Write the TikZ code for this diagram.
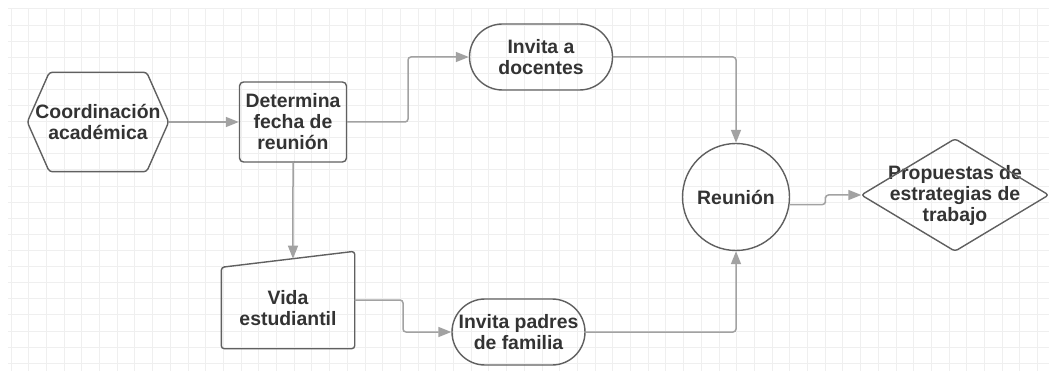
\documentclass[tikz,border=0pt]{standalone}
\usepackage{fontspec}
\setmainfont{Liberation Sans}
\usetikzlibrary{arrows.meta,calc}
\definecolor{txtgray}{HTML}{333333}
\definecolor{edgegray}{HTML}{606060}
\definecolor{flowgray}{HTML}{A2A2A2}
\definecolor{gridgray}{HTML}{EFEFEF}
\tikzset{blk/.style={draw=edgegray, line width=1.4pt, text=txtgray, font=\bfseries\fontsize{19.4}{21}\selectfont, align=center, inner sep=0pt}}
\tikzstyle{box}=[blk, rectangle, rounded corners=4pt, minimum width=107pt, minimum height=80pt]
\tikzstyle{pill}=[blk, rectangle, rounded corners=33pt, minimum height=66pt]
\tikzstyle{circ}=[blk, circle, minimum size=107pt]
\tikzstyle{bare}=[blk, draw=none]
\tikzstyle{outline}=[draw=edgegray, line width=1.4pt, line join=round, rounded corners=3pt]
\tikzstyle{flow}=[draw=flowgray, line width=1.5pt, rounded corners=3pt, ->]
\begin{document}
\begin{tikzpicture}[x=1pt, y=-1pt, >={Triangle[length=13pt,width=10pt]}]
\fill[white] (0,0) rectangle (1049,371);
\useasboundingbox (0,0) rectangle (1049,371);
\foreach \gx in {0,...,58} \draw[gridgray, line width=1pt] ({11+17.7*\gx},9) -- ({11+17.7*\gx},371);
\foreach \gy in {0,...,22} \draw[gridgray, line width=1pt] (8,{9+16.1*\gy}) -- (1049,{9+16.1*\gy});

\node[bare, minimum width=140pt, minimum height=98pt] (coord) at (98,122) {Coordinación\\académica};
\node[box, right of=coord, node distance=195pt] (det) {Determina\\fecha de\\reunión};
\node[pill, minimum width=143pt, right of=det, node distance=248pt, yshift=65pt] (doc) {Invita a\\docentes};
\node[bare, minimum width=132pt, minimum height=80pt, below of=det, node distance=186pt, xshift=-5pt] (vida) {Vida\\estudiantil};
\node[pill, minimum width=133pt, right of=vida, node distance=230.5pt, yshift=-24pt] (padres) {Invita padres\\de familia};
\node[circ, right of=det, node distance=443pt, yshift=-75pt] (reu) {Reunión};
\node[bare, minimum width=186pt, minimum height=111pt, right of=reu, node distance=219pt, yshift=2pt] (prop) {Propuestas de\\estrategias de\\trabajo};

\draw[outline] (coord.west) -- ([xshift=22pt]coord.north west) -- ([xshift=-22pt]coord.north east) -- (coord.east) -- ([xshift=-22pt]coord.south east) -- ([xshift=22pt]coord.south west) -- cycle;
\coordinate (vtr) at ([yshift=16pt]vida.north east);
\draw[outline] (vida.south west) -- (vida.north west) -- (vtr) -- (vida.south east) -- cycle;
\draw[outline] (prop.west) -- (prop.north) -- (prop.east) -- (prop.south) -- cycle;
\coordinate (vin) at (intersection of det.north--det.south and vida.north west--vtr);
\coordinate (vout) at ([yshift=8pt]vida.east);

\draw[flow] (coord.east) -- (det.west);
\draw[flow] (det.east) -| ($(det.east)!0.5!(doc.west)$) |- (doc.west);
\draw[flow] (doc.east) -| (reu.north);
\draw[flow] (det.south) -- (vin);
\draw[flow] (vout) -| ($(vout)!0.5!(padres.west)$) |- (padres.west);
\draw[flow] (padres.east) -| (reu.south);
\draw[flow] (reu.-8) -| ($(reu.-8)!0.5!(prop.west)$) |- (prop.west);
\end{tikzpicture}
\end{document}
